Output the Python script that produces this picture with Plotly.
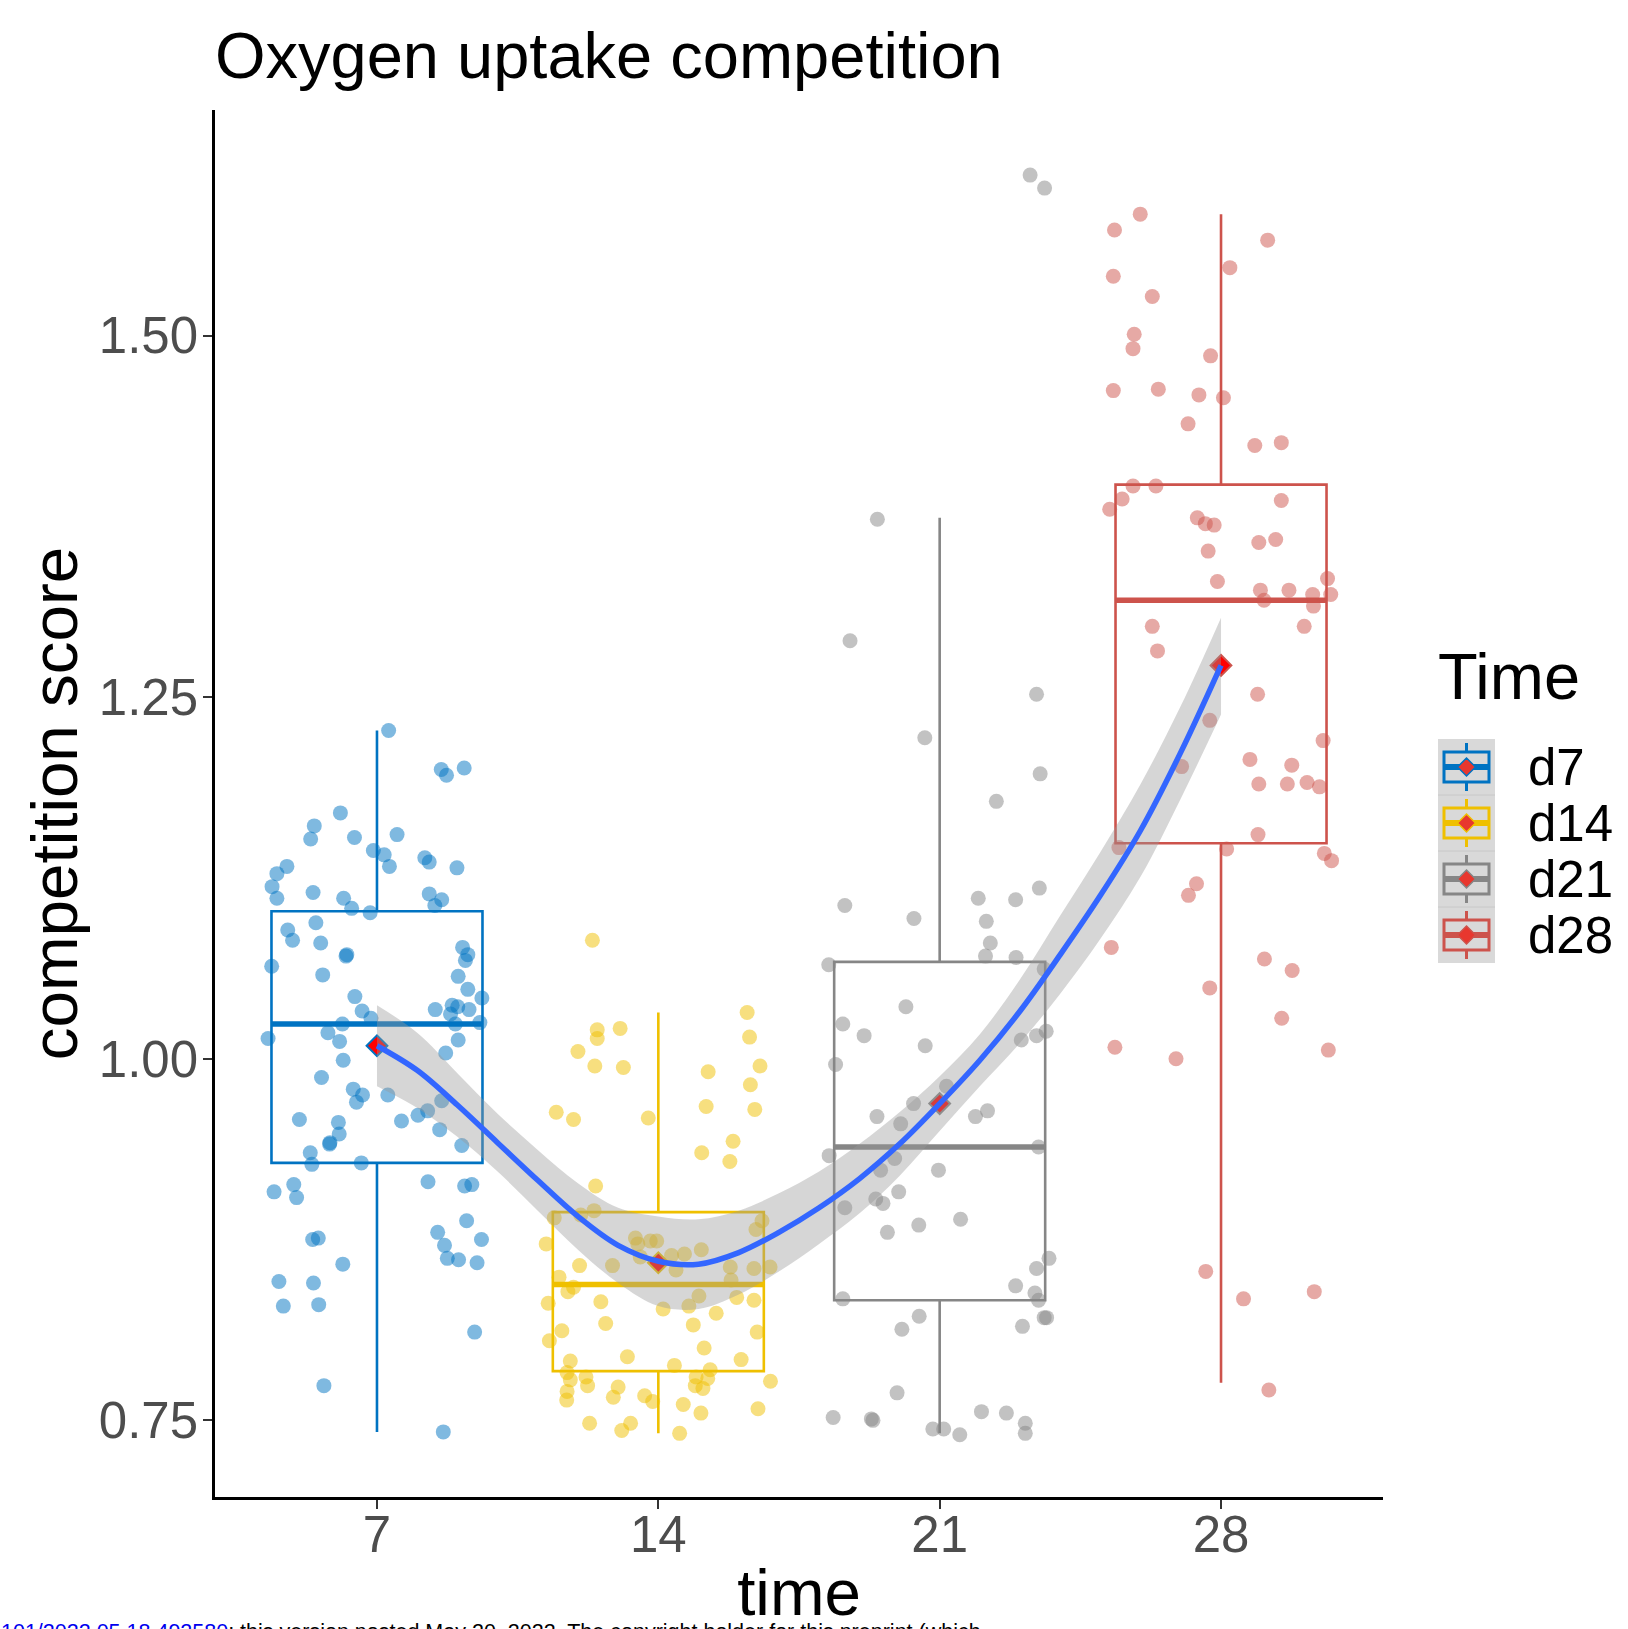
import plotly.graph_objects as go

# ---------------- data ----------------
groups = ["d7", "d14", "d21", "d28"]
group_time = [7, 14, 21, 28]
group_colors = ["#0073C2", "#EFC000", "#868686", "#CD534C"]
group_points_rgba = ["rgba(0,115,194,0.5)", "rgba(239,192,0,0.5)",
                     "rgba(134,134,134,0.5)", "rgba(205,83,76,0.5)"]

# jittered observations (time, score)
d7_time = [7.29, 8.60, 8.73, 9.17, 6.09, 5.44, 5.35, 6.44, 7.50, 6.91, 7.18, 7.31, 8.19, 8.30, 8.99,
           4.76, 4.51, 4.39, 4.51, 5.41, 6.17, 6.37, 6.83, 8.30, 8.61, 8.44, 5.48, 4.78, 4.90, 5.60,
           6.25, 6.23, 4.38, 5.65, 9.13, 9.26, 9.20, 9.02, 9.26, 9.61, 6.45, 6.63, 6.85, 8.45, 8.87,
           9.01, 8.83, 9.29, 8.95, 9.56, 6.14, 5.78, 6.07, 4.29, 9.02, 8.71, 6.16,
           5.62, 6.41, 6.64, 6.49, 7.27, 5.07, 6.04, 6.06, 5.83, 5.82, 5.34, 5.38, 6.61, 7.61, 8.02,
           8.26, 8.61, 8.56, 9.11, 4.44, 4.93, 5.00, 8.27, 9.18, 9.36, 9.23, 8.51, 8.68, 9.60, 8.75,
           9.03, 9.49, 5.40, 5.54, 6.15, 4.56, 5.42, 4.67, 5.55, 9.43, 5.68, 8.65]
d7_score = [1.227, 1.200, 1.196, 1.201, 1.170, 1.161, 1.152, 1.153, 1.155, 1.144, 1.141, 1.133, 1.139, 1.136, 1.132,
            1.133, 1.128, 1.119, 1.111, 1.115, 1.111, 1.104, 1.101, 1.114, 1.110, 1.106, 1.094, 1.089, 1.082, 1.080,
            1.072, 1.071, 1.064, 1.058, 1.077, 1.072, 1.068, 1.057, 1.048, 1.042, 1.043, 1.033, 1.028, 1.034, 1.037,
            1.036, 1.031, 1.034, 1.024, 1.025, 1.024, 1.018, 1.012, 1.014, 1.013, 1.004, 0.999,
            0.987, 0.979, 0.975, 0.970, 0.975, 0.958, 0.956, 0.948, 0.942, 0.941, 0.935, 0.927, 0.928, 0.957, 0.961,
            0.964, 0.971, 0.951, 0.940, 0.908, 0.913, 0.904, 0.915, 0.912, 0.913, 0.888, 0.880, 0.871, 0.875, 0.862,
            0.861, 0.859, 0.875, 0.876, 0.858, 0.846, 0.845, 0.829, 0.830, 0.811, 0.774, 0.742]

d14_time = [16.21, 16.27, 16.53, 16.29, 16.40, 12.48, 13.05, 12.48, 12.00, 12.42, 13.13, 11.46, 11.89, 13.75,
            15.24, 15.19, 15.86, 15.08, 15.78, 12.44, 11.41, 12.07, 12.40, 11.21, 12.04, 12.86, 13.43, 13.49,
            13.80, 13.96, 13.55, 14.33, 14.65, 15.07, 14.44, 16.43, 16.58, 15.79, 16.38, 16.78, 15.81, 11.53,
            11.75, 11.89, 11.26, 12.57, 15.01, 14.76, 14.12, 15.95, 16.38, 15.44, 12.69, 14.87, 11.60, 11.29,
            16.46, 15.14, 13.23, 16.06, 11.81, 14.40, 11.73, 11.81, 12.20, 12.24, 11.73, 11.72, 13.00, 12.88,
            13.66, 13.86, 15.29, 14.94, 15.23, 14.92, 15.11, 16.79, 14.62, 16.48, 15.06, 12.29, 13.31, 13.09,
            14.53, 12.36]
d14_score = [1.032, 1.015, 0.995, 0.982, 0.965, 1.020, 1.021, 1.014, 1.005, 0.995, 0.994, 0.963, 0.958, 0.959,
             0.991, 0.967, 0.943, 0.935, 0.929, 0.912, 0.890, 0.892, 0.895, 0.872, 0.857, 0.857, 0.876, 0.872,
             0.874, 0.874, 0.863, 0.864, 0.865, 0.868, 0.854, 0.882, 0.888, 0.856, 0.855, 0.856, 0.847, 0.849,
             0.839, 0.842, 0.831, 0.832, 0.836, 0.829, 0.827, 0.835, 0.833, 0.824, 0.817, 0.816, 0.812, 0.805,
             0.811, 0.800, 0.794, 0.792, 0.791, 0.788, 0.783, 0.778, 0.780, 0.774, 0.770, 0.764, 0.773, 0.766,
             0.767, 0.763, 0.785, 0.780, 0.779, 0.774, 0.772, 0.777, 0.761, 0.758, 0.755, 0.748, 0.748, 0.743,
             0.741, 1.082]

d21_time = [23.25, 23.61, 19.45, 18.77,
            23.41, 20.63, 23.50, 22.41, 23.48, 21.96, 22.89, 18.64, 20.36, 22.16, 22.26, 22.14, 22.90, 18.24,
            23.60, 20.16, 18.59, 19.12, 20.64, 18.41, 23.03, 23.41, 23.65,
            21.17, 20.35, 19.44, 20.03, 21.89, 22.19, 18.25, 19.88, 19.53, 20.97, 23.46, 19.98, 19.41, 19.59,
            18.64, 19.70, 20.48, 21.52, 23.72, 23.41, 22.89, 23.37, 23.46, 18.59, 20.49, 20.06, 23.06, 23.60,
            23.66, 19.94, 18.35, 19.30, 19.34, 22.04, 22.66, 23.13, 23.13, 20.83, 21.10, 21.50]
d21_score = [1.611, 1.602, 1.373, 1.289,
             1.252, 1.222, 1.197, 1.178, 1.118, 1.111, 1.110, 1.106, 1.097, 1.095, 1.080, 1.071, 1.070, 1.065,
             1.062, 1.036, 1.024, 1.016, 1.009, 0.996, 1.013, 1.016, 1.019,
             0.981, 0.969, 0.960, 0.955, 0.960, 0.964, 0.933, 0.931, 0.923, 0.923, 0.939, 0.908, 0.903, 0.900,
             0.897, 0.880, 0.885, 0.889, 0.862, 0.855, 0.843, 0.838, 0.833, 0.834, 0.822, 0.813, 0.815, 0.821,
             0.821, 0.769, 0.752, 0.751, 0.750, 0.756, 0.755, 0.748, 0.741, 0.744, 0.744, 0.740]

d28_time = [25.99, 25.35, 29.16, 28.22, 25.32, 26.29, 25.84, 25.81, 27.74, 25.32, 26.44, 27.45, 28.06, 27.18,
            28.84, 29.50, 25.81, 26.38, 25.54, 25.23, 29.50, 27.41, 27.61, 27.83, 27.68, 28.94, 29.36, 27.91,
            28.98, 29.69, 30.65, 30.28, 30.73, 29.07, 30.30, 26.29, 30.07, 26.42,
            27.72, 27.02, 28.91, 30.54, 28.72, 29.76, 28.94, 29.65, 30.14, 30.45, 28.92, 28.14, 25.46, 30.57,
            30.75, 27.39, 27.19, 25.27, 29.08, 29.77, 27.72, 29.51, 25.36, 26.88, 30.67, 27.62, 28.56, 30.32,
            29.19]
d28_score = [1.584, 1.573, 1.566, 1.547, 1.541, 1.527, 1.501, 1.491, 1.486, 1.462, 1.463, 1.459, 1.457, 1.439,
             1.424, 1.426, 1.396, 1.396, 1.387, 1.380, 1.386, 1.374, 1.370, 1.369, 1.351, 1.357, 1.359, 1.330,
             1.324, 1.324, 1.332, 1.321, 1.321, 1.317, 1.313, 1.299, 1.299, 1.282,
             1.234, 1.202, 1.252, 1.220, 1.207, 1.203, 1.190, 1.190, 1.191, 1.188, 1.155, 1.145, 1.146, 1.142,
             1.137, 1.121, 1.113, 1.077, 1.069, 1.061, 1.049, 1.028, 1.008, 1.000, 1.006, 0.853, 0.834, 0.839,
             0.771]

# box statistics per group
box_lowerfence = [0.742, 0.741, 0.741, 0.776]
box_q1 = [0.928, 0.784, 0.833, 1.149]
box_median = [1.024, 0.844, 0.939, 1.317]
box_q3 = [1.102, 0.894, 1.067, 1.397]
box_upperfence = [1.227, 1.032, 1.374, 1.584]
group_mean = [1.009, 0.859, 0.969, 1.272]

# loess smooth with confidence band
smooth_time = [7, 8, 9, 10, 11, 12, 13, 14, 15, 16, 17, 18, 19, 20, 21, 22, 23, 24, 25, 26, 27, 28]
smooth_fit = [1.009, 0.992, 0.968, 0.942, 0.916, 0.891, 0.871, 0.860, 0.858, 0.866, 0.880, 0.897,
              0.917, 0.941, 0.969, 0.999, 1.033, 1.072, 1.113, 1.158, 1.212, 1.272]
smooth_lower = [0.981, 0.966, 0.946, 0.922, 0.895, 0.868, 0.845, 0.829, 0.827, 0.837, 0.853, 0.872,
                0.893, 0.919, 0.950, 0.981, 1.011, 1.045, 1.083, 1.126, 1.180, 1.238]
smooth_upper = [1.037, 1.018, 0.990, 0.962, 0.937, 0.914, 0.897, 0.891, 0.889, 0.895, 0.907, 0.922,
                0.941, 0.963, 0.988, 1.017, 1.055, 1.099, 1.143, 1.190, 1.244, 1.305]

x_ticks = [7, 14, 21, 28]
x_ticklabels = ["7", "14", "21", "28"]
y_ticks = [0.75, 1.00, 1.25, 1.50]
y_ticklabels = ["0.75", "1.00", "1.25", "1.50"]

point_times = [d7_time, d14_time, d21_time, d28_time]
point_scores = [d7_score, d14_score, d21_score, d28_score]

# ---------------- figure ----------------
W, H = 1628, 1629
ML, MR, MT, MB = 215, 245, 110, 132
PWID, PHGT = W - ML - MR, H - MT - MB
FONT = "Liberation Sans, Arial, Helvetica, sans-serif"
BOX_W = 5.25

fig = go.Figure()

# boxes
for i, g in enumerate(groups):
    fig.add_trace(go.Box(
        x=[group_time[i]], q1=[box_q1[i]], median=[box_median[i]], q3=[box_q3[i]],
        lowerfence=[box_lowerfence[i]], upperfence=[box_upperfence[i]],
        width=BOX_W, whiskerwidth=0, boxpoints=False,
        line=dict(color=group_colors[i], width=2.6),
        fillcolor="rgba(0,0,0,0)", name=g, showlegend=False, hoverinfo="skip"))

# thick median lines (part of the boxplot layer)
for i, g in enumerate(groups):
    fig.add_trace(go.Scatter(
        x=[group_time[i] - BOX_W / 2, group_time[i] + BOX_W / 2],
        y=[box_median[i], box_median[i]], mode="lines",
        line=dict(color=group_colors[i], width=5.5), showlegend=False, hoverinfo="skip"))

# jittered points
for i, g in enumerate(groups):
    fig.add_trace(go.Scatter(
        x=point_times[i], y=point_scores[i], mode="markers",
        marker=dict(size=15, color=group_points_rgba[i], line=dict(width=0)),
        name=g, showlegend=False))

# mean diamonds
for i, g in enumerate(groups):
    fig.add_trace(go.Scatter(
        x=[group_time[i]], y=[group_mean[i]], mode="markers",
        marker=dict(symbol="diamond", size=16, color="#FF0000",
                    line=dict(color=group_colors[i], width=2)),
        showlegend=False))

# confidence ribbon (lower edge, then upper edge filled to it)
fig.add_trace(go.Scatter(
    x=smooth_time, y=smooth_lower, mode="lines",
    line=dict(width=0, shape="spline"), showlegend=False, hoverinfo="skip"))
fig.add_trace(go.Scatter(
    x=smooth_time, y=smooth_upper, mode="lines", fill="tonexty",
    fillcolor="rgba(153,153,153,0.4)",
    line=dict(width=0, shape="spline"), showlegend=False, hoverinfo="skip"))

# smooth line
fig.add_trace(go.Scatter(
    x=smooth_time, y=smooth_fit, mode="lines",
    line=dict(color="#3366FF", width=5.5, shape="spline"), showlegend=False))

# ---------------- custom ggplot-like legend ----------------
def px(x):
    return (x - ML) / PWID

def py(y):
    return (H - MB - y) / PHGT

shapes = []
annotations = []
KX0, KX1 = 1438, 1495
KY0, KSTEP = 739, 56
shapes.append(dict(type="rect", xref="paper", yref="paper",
                   x0=px(KX0), x1=px(KX1), y0=py(KY0), y1=py(KY0 + 4 * KSTEP),
                   fillcolor="#D9D9D9", line=dict(width=0), layer="above"))
for k, g in enumerate(groups):
    cy = KY0 + KSTEP * k + KSTEP / 2
    cx = (KX0 + KX1) / 2
    col = group_colors[k]
    if k > 0:
        shapes.append(dict(type="line", xref="paper", yref="paper",
                           x0=px(KX0), x1=px(KX1), y0=py(KY0 + KSTEP * k), y1=py(KY0 + KSTEP * k),
                           line=dict(color="#C8C8C8", width=1), layer="above"))
    shapes.append(dict(type="line", xref="paper", yref="paper", x0=px(cx), x1=px(cx),
                       y0=py(cy - 24), y1=py(cy + 24), line=dict(color=col, width=3), layer="above"))
    shapes.append(dict(type="rect", xref="paper", yref="paper", x0=px(1444), x1=px(1489),
                       y0=py(cy - 15), y1=py(cy + 15), fillcolor="#D9D9D9",
                       line=dict(color=col, width=3), layer="above"))
    shapes.append(dict(type="line", xref="paper", yref="paper", x0=px(1444), x1=px(1489),
                       y0=py(cy), y1=py(cy), line=dict(color=col, width=6), layer="above"))
    d = 9
    path = "M {a},{b} L {c},{e} L {a},{f} L {g},{e} Z".format(
        a=px(cx), b=py(cy - d), c=px(cx + d), e=py(cy), f=py(cy + d), g=px(cx - d))
    shapes.append(dict(type="path", xref="paper", yref="paper", path=path,
                       fillcolor="#E8372E", line=dict(color=col, width=1.5), layer="above"))
    annotations.append(dict(xref="paper", yref="paper", x=px(1526), y=py(cy),
                            xanchor="left", yanchor="middle", showarrow=False, text=g,
                            font=dict(family=FONT, size=51, color="#000000")))

annotations.append(dict(xref="paper", yref="paper", x=px(1436), y=py(676),
                        xanchor="left", yanchor="middle", showarrow=False, text="Time",
                        font=dict(family=FONT, size=65, color="#000000")))

# preprint footer line (partially cut off at the bottom)
annotations.append(dict(xref="paper", yref="paper", x=px(0), y=py(1619),
                        xanchor="left", yanchor="top", showarrow=False, borderpad=0,
                        text="<span style='color:#0000EE'>101/2022.05.18.492580</span>; this version posted May 20, 2022. The copyright holder for this preprint (which",
                        font=dict(family=FONT, size=21.5, color="#000000")))

fig.update_layout(
    width=W, height=H, margin=dict(l=ML, r=MR, t=MT, b=MB, pad=0),
    paper_bgcolor="white", plot_bgcolor="white",
    font=dict(family=FONT, color="#000000"),
    title=dict(text="Oxygen uptake competition", x=ML / W, xanchor="left", xref="container",
               y=1 - 55 / H, yanchor="middle", yref="container",
               font=dict(family=FONT, size=65, color="#000000")),
    xaxis=dict(range=[2.97, 32.03], tickvals=x_ticks, ticktext=x_ticklabels, automargin=False,
               showgrid=False, zeroline=False, showline=True, linecolor="#000000", linewidth=2.5,
               ticks="outside", ticklen=9, tickwidth=2, tickcolor="#333333",
               ticklabelstandoff=-18,
               tickfont=dict(family=FONT, size=51, color="#4D4D4D"),
               title=dict(text="time", standoff=26, font=dict(family=FONT, size=65.5, color="#000000"))),
    yaxis=dict(range=[0.697, 1.656], tickvals=y_ticks, ticktext=y_ticklabels, automargin=False,
               showgrid=False, zeroline=False, showline=True, linecolor="#000000", linewidth=2.5,
               ticks="outside", ticklen=9, tickwidth=2, tickcolor="#333333",
               ticklabelstandoff=-5,
               tickfont=dict(family=FONT, size=51, color="#4D4D4D"),
               title=dict(text="competition score", standoff=0,
                          font=dict(family=FONT, size=65.5, color="#000000"))),
    shapes=shapes, annotations=annotations, showlegend=False,
)

fig.write_html("out.html", config={"displayModeBar": False},
               post_script="document.body.style.margin='0';document.body.style.overflow='hidden';")
